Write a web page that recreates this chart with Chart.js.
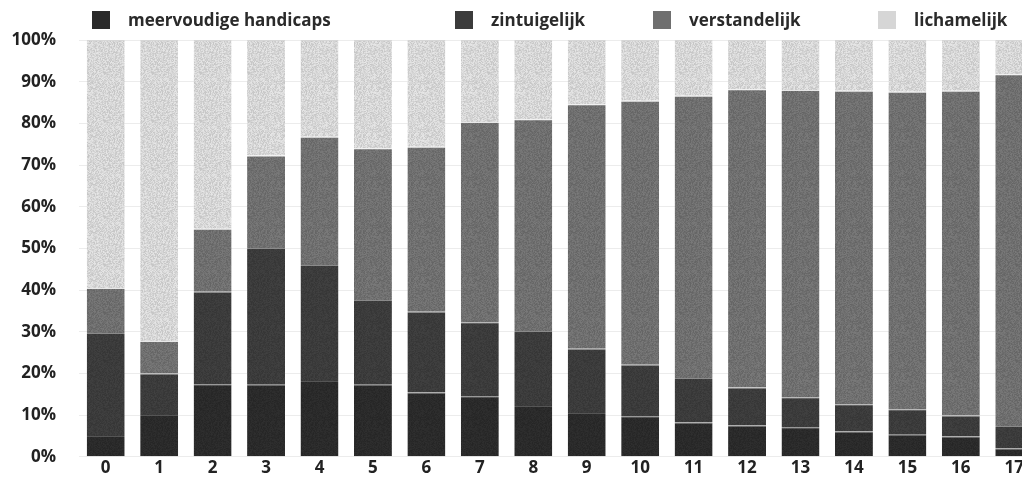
<!DOCTYPE html>
<html>
<head>
<meta charset="utf-8">
<script src="https://cdn.jsdelivr.net/npm/chart.js@4/dist/chart.umd.min.js"></script>
<style>
  html, body { margin: 0; padding: 0; background: #fff; overflow: hidden; }
  #wrap { position: relative; width: 1048px; height: 490px; }
  #legend { position: absolute; left: 0; top: 0; width: 1048px; height: 40px; }
  .item { position: absolute; top: 8px; display: flex; align-items: center;
          font-family: "Open Sans", sans-serif; font-weight: 700; font-size: 17px; color: #2a2a2a; }
  .box { width: 18px; height: 18px; margin-right: 18px; }
</style>
</head>
<body>
<div id="wrap">
  <canvas id="handicapChart"></canvas>
  <div id="legend"></div>
</div>
<script>
// ages on the x axis
var categories = ['0', '1', '2', '3', '4', '5', '6', '7', '8', '9', '10', '11', '12', '13', '14', '15', '16', '17'];

// share per type of handicap, in percent
var meervoudig = [5.0, 10.0, 17.4, 17.3, 18.2, 17.3, 15.4, 14.5, 12.2, 10.5, 9.7, 8.2, 7.5, 7.1, 6.1, 5.3, 4.9, 2.0];
var zintuigelijk = [24.7, 10.0, 22.2, 32.8, 27.8, 20.3, 19.4, 17.8, 18.0, 15.4, 12.4, 10.7, 9.1, 7.2, 6.5, 6.1, 5.0, 5.4];
var verstandelijk = [10.8, 7.8, 15.1, 22.2, 30.8, 36.4, 39.6, 48.0, 50.8, 58.7, 63.3, 67.7, 71.6, 73.7, 75.2, 76.2, 77.9, 84.4];
var lichamelijk = [59.5, 72.2, 45.3, 27.7, 23.2, 26.0, 25.6, 19.7, 19.0, 15.4, 14.6, 13.4, 11.8, 12.0, 12.2, 12.4, 12.2, 8.2];

var yTicks = [0, 10, 20, 30, 40, 50, 60, 70, 80, 90, 100];

var legendLeft = [92, 455, 653, 878];

// grainy fill like the scanned original (fixed hash, no randomness)
function grain(base, spread) {
    var c = document.createElement('canvas');
    c.width = 48; c.height = 48;
    var g = c.getContext('2d');
    var img = g.createImageData(48, 48);
    for (var i = 0; i < 48 * 48; i++) {
        var h = Math.sin(i * 12.9898 + 78.233) * 43758.5453;
        h = h - Math.floor(h);
        var v = Math.round(base + (h - 0.5) * spread);
        img.data[i * 4] = v; img.data[i * 4 + 1] = v; img.data[i * 4 + 2] = v; img.data[i * 4 + 3] = 255;
    }
    g.putImageData(img, 0, 0);
    return g.createPattern(c, 'repeat');
}

document.addEventListener('DOMContentLoaded', function() {
    var ctx = document.getElementById('handicapChart').getContext('2d');
    var tickFont = { family: 'Open Sans', weight: 'bold', size: 17 };

    var series = [
        { label: 'meervoudige handicaps', data: meervoudig, color: '#2a2a2a', fill: grain(42, 10), edge: '#555555' },
        { label: 'zintuigelijk', data: zintuigelijk, color: '#3b3b3b', fill: grain(59, 12), edge: '#8a8a8a' },
        { label: 'verstandelijk', data: verstandelijk, color: '#6f6f6f', fill: grain(111, 22), edge: '#e8e8e8' },
        { label: 'lichamelijk', data: lichamelijk, color: '#d6d6d6', fill: grain(214, 34), edge: '#d6d6d6' }
    ];

    var chart = new Chart(ctx, {
        type: 'bar',
        data: {
            labels: categories,
            datasets: series.map(function(s) {
                return {
                    label: s.label,
                    data: s.data,
                    backgroundColor: s.fill,
                    borderColor: s.edge,
                    borderWidth: { top: 1, left: 0, right: 0, bottom: 0 },
                    borderSkipped: false,
                    barPercentage: 0.71,
                    categoryPercentage: 1.0
                };
            })
        },
        options: {
            responsive: true,
            maintainAspectRatio: false,
            animation: false,
            layout: { padding: { top: 40, right: 7, left: 0, bottom: 0 } },
            plugins: {
                legend: { display: false },
                tooltip: { enabled: false }
            },
            scales: {
                x: {
                    stacked: true,
                    grid: { display: false, drawTicks: false },
                    border: { display: false },
                    ticks: { font: tickFont, color: '#222', padding: 1 },
                    afterFit: function(scale) { scale.height = 20; }
                },
                y: {
                    stacked: true,
                    min: 0,
                    max: 100,
                    afterBuildTicks: function(scale) {
                        scale.ticks = yTicks.map(function(v) { return { value: v }; });
                    },
                    grid: { color: '#ececec', drawTicks: false },
                    border: { display: false },
                    ticks: {
                        font: tickFont,
                        color: '#222',
                        padding: 23,
                        callback: function(v) { return v + '%'; }
                    },
                    afterFit: function(scale) { scale.width = 79; }
                }
            }
        }
    });

    // legend placed like the original
    var legend = document.getElementById('legend');
    series.forEach(function(s, i) {
        var item = document.createElement('div');
        item.className = 'item';
        item.style.left = legendLeft[i] + 'px';
        var box = document.createElement('span');
        box.className = 'box';
        box.style.background = s.color;
        var txt = document.createElement('span');
        txt.textContent = s.label;
        item.appendChild(box);
        item.appendChild(txt);
        legend.appendChild(item);
    });
});
</script>
</body>
</html>
